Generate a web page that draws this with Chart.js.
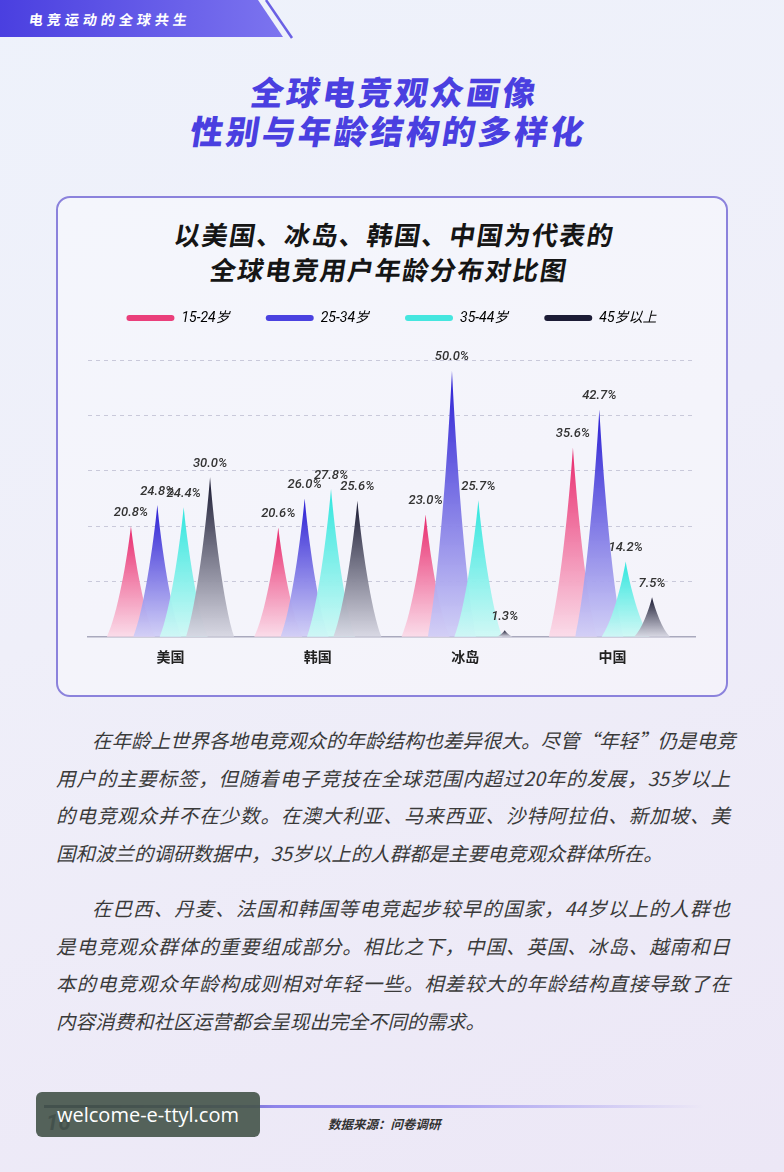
<!DOCTYPE html>
<html lang="zh-CN">
<head>
<meta charset="utf-8">
<script src="https://cdn.jsdelivr.net/npm/chart.js@4"></script>
<style>
  html, body { margin: 0; padding: 0; }
  body {
    width: 784px; height: 1172px; position: relative; overflow: hidden;
    background: linear-gradient(160deg, #eef2fb 0%, #efeff9 45%, #ece7f6 100%);
    font-family: "Noto Sans CJK SC", "Noto Sans", sans-serif;
  }
  .tag-text {
    position: absolute; left: 29px; top: 9px; color: #fff;
    font-size: 14px; font-weight: 700; letter-spacing: 4px; line-height: 20px;
    transform: skewX(-8deg);
  }
  .page-title {
    position: absolute; left: 0; top: 72px; width: 784px; text-align: center;
    color: #4a3fe0; font-size: 33px; font-weight: 900; letter-spacing: 3px; line-height: 39px;
    transform: skewX(-9deg);
  }
  .box {
    position: absolute; left: 56px; top: 196px; width: 672px; height: 501px;
    box-sizing: border-box; border: 2px solid #8b82dc; border-radius: 14px;
    background: rgba(255,255,255,0.35);
  }
  .chart-title {
    position: absolute; left: 56px; top: 216px; width: 672px; text-align: center;
    color: #151515; font-size: 26px; font-weight: 700; letter-spacing: 1.5px; line-height: 35px;
    transform: skewX(-9deg);
  }
  #chartWrap { position: absolute; left: 56px; top: 275px; width: 672px; height: 407px; }
  .para {
    position: absolute; left: 56px; width: 674px;
    font-size: 19.5px; line-height: 37.7px; color: #3a3a3a; font-style: italic;
  }
  .para div { white-space: nowrap; text-align: justify; text-align-last: justify; }
  .para div.first { padding-left: 36px; }
  .para div.last { text-align-last: left; }
  .footline {
    position: absolute; left: 44px; top: 1105px; width: 660px; height: 3px;
    background: linear-gradient(90deg, #23235a 0%, #23235a 8%, #8e84ea 35%, #a59cf0 60%, rgba(165,156,240,0) 100%);
  }
  .pagenum {
    position: absolute; left: 46px; top: 1110px; color: #1d2050;
    font-size: 22px; font-weight: 700; font-style: italic; font-family: Roboto, sans-serif;
  }
  .source {
    position: absolute; left: 328px; top: 1114px; color: #333;
    font-size: 12.5px; font-weight: 700; font-style: italic;
  }
  .watermark {
    position: absolute; left: 36px; top: 1092px; width: 224px; height: 45px;
    background: rgba(70,86,76,0.92); border-radius: 6px; color: #fff;
    font-family: "Open Sans", "Noto Sans", sans-serif; font-size: 20px; line-height: 45px;
    text-align: center;
  }
</style>
</head>
<body>
<svg width="320" height="42" style="position:absolute;left:0;top:0">
  <defs>
    <linearGradient id="tagGrad" x1="0" x2="1" y1="0" y2="0">
      <stop offset="0" stop-color="#4a3fe0"/>
      <stop offset="1" stop-color="#7c74ef"/>
    </linearGradient>
  </defs>
  <polygon points="0,0 258,0 283,37 0,37" fill="url(#tagGrad)"/>
  <line x1="266" y1="0" x2="292" y2="38" stroke="#6a60e4" stroke-width="2.5"/>
</svg>
<div class="tag-text">电竞运动的全球共生</div>

<div class="page-title">全球电竞观众画像<br>性别与年龄结构的多样化</div>

<div class="box"></div>
<div class="chart-title">以美国、冰岛、韩国、中国为代表的<br>全球电竞用户年龄分布对比图</div>
<div id="chartWrap"><canvas id="ageChart"></canvas></div>

<div class="para" style="top:721px">
  <div class="first">在年龄上世界各地电竞观众的年龄结构也差异很大。尽管“年轻”仍是电竞</div>
  <div>用户的主要标签，但随着电子竞技在全球范围内超过20年的发展，35岁以上</div>
  <div>的电竞观众并不在少数。在澳大利亚、马来西亚、沙特阿拉伯、新加坡、美</div>
  <div class="last">国和波兰的调研数据中，35岁以上的人群都是主要电竞观众群体所在。</div>
</div>
<div class="para" style="top:889px">
  <div class="first">在巴西、丹麦、法国和韩国等电竞起步较早的国家，44岁以上的人群也</div>
  <div>是电竞观众群体的重要组成部分。相比之下，中国、英国、冰岛、越南和日</div>
  <div>本的电竞观众年龄构成则相对年轻一些。相差较大的年龄结构直接导致了在</div>
  <div class="last">内容消费和社区运营都会呈现出完全不同的需求。</div>
</div>

<div class="footline"></div>
<div class="pagenum">16</div>
<div class="source">数据来源：问卷调研</div>
<div class="watermark">welcome-e-ttyl.com</div>

<script>
// data (percent of users per age group)
const countries = ['美国', '韩国', '冰岛', '中国'];
const ageGroups = ['15-24岁', '25-34岁', '35-44岁', '45岁以上'];
const age15to24 = [20.8, 20.6, 23.0, 35.6];
const age25to34 = [24.8, 26.0, 50.0, 42.7];
const age35to44 = [24.4, 27.8, 25.7, 14.2];
const age45plus = [30.0, 25.6, 1.3, 7.5];

// colours: legend swatch, spike top, spike bottom
const legendColours = ['#ea3f7b', '#4a42e0', '#45e6df', '#1c1c36'];
const spikeTop = ['#e8296c', '#2a1ed4', '#2fe6de', '#1a1a32'];
const spikeBottom = ['rgba(250,218,232,0.95)', 'rgba(208,206,246,0.95)', 'rgba(206,248,245,0.95)', 'rgba(214,214,226,0.95)'];

Chart.defaults.font.family = '"Noto Sans CJK SC", "Noto Sans", sans-serif';

// more room between legend and plot
const legendGap = {
  id: 'legendGap',
  beforeInit(chart) {
    const fitLegend = chart.legend.fit;
    chart.legend.fit = function () {
      fitLegend.bind(chart.legend)();
      this.height += 25;
    };
  }
};

const spikePlugin = {
  id: 'spikes',
  afterDatasetsDraw(chart) {
    const ctx = chart.ctx;
    ctx.save();
    chart.data.datasets.forEach((ds, di) => {
      chart.getDatasetMeta(di).data.forEach(bar => {
        const x = bar.x, top = bar.y, base = bar.base;
        const h = base - top;
        const w = Math.min(48, 12 + h * 0.6);
        const grad = ctx.createLinearGradient(0, top, 0, base);
        grad.addColorStop(0, spikeTop[di]);
        grad.addColorStop(1, spikeBottom[di]);
        ctx.fillStyle = grad;
        ctx.beginPath();
        ctx.moveTo(x, top);
        ctx.bezierCurveTo(x + w * 0.08, top + h * 0.3, x + w * 0.28, top + h * 0.8, x + w / 2, base);
        ctx.lineTo(x - w / 2, base);
        ctx.bezierCurveTo(x - w * 0.28, top + h * 0.8, x - w * 0.08, top + h * 0.3, x, top);
        ctx.closePath();
        ctx.fill();
      });
    });
    // value labels on top of all spikes
    ctx.font = 'italic 500 13px Roboto, sans-serif';
    ctx.fillStyle = '#333';
    ctx.textAlign = 'center';
    ctx.textBaseline = 'bottom';
    chart.data.datasets.forEach((ds, di) => {
      chart.getDatasetMeta(di).data.forEach((bar, i) => {
        ctx.fillText(ds.data[i].y.toFixed(1) + '%', bar.x, bar.y - 7);
      });
    });
    ctx.restore();
  }
};

const seriesList = [age15to24, age25to34, age35to44, age45plus];

new Chart(document.getElementById('ageChart'), {
  type: 'bar',
  data: {
    datasets: seriesList.map((values, i) => ({
      label: ageGroups[i],
      data: values.map((v, ci) => ({ x: ci, y: v })),
      backgroundColor: 'rgba(0,0,0,0)',
      categoryPercentage: 0.716,
      barPercentage: 1
    }))
  },
  options: {
    responsive: true,
    maintainAspectRatio: false,
    animation: false,
    layout: { padding: { left: 32, right: 33, top: 0, bottom: 6 } },
    plugins: {
      tooltip: { enabled: false },
      legend: {
        position: 'top',
        labels: {
          boxWidth: 48,
          boxHeight: 6,
          padding: 36,
          useBorderRadius: true,
          borderRadius: 3,
          color: '#333',
          font: { size: 14, style: 'italic', family: 'Roboto, "Noto Sans CJK SC", sans-serif' },
          generateLabels: () => ageGroups.map((name, i) => ({
            text: name,
            fillStyle: legendColours[i],
            strokeStyle: legendColours[i],
            lineWidth: 0,
            borderRadius: 3,
            hidden: false,
            datasetIndex: i
          }))
        }
      }
    },
    scales: {
      x: {
        type: 'linear',
        min: -0.56,
        max: 3.56,
        offset: false,
        grid: { display: false, drawTicks: false },
        border: { display: true, color: '#a9a9bd', width: 1.5 },
        ticks: {
          stepSize: 1,
          includeBounds: false,
          color: '#222',
          padding: 11,
          font: { size: 14, weight: 'bold' },
          callback: v => Number.isInteger(v) && countries[v] ? countries[v] : ''
        }
      },
      y: {
        min: 0,
        max: 52,
        ticks: { display: false, stepSize: 10.4 },
        grid: {
          drawTicks: false,
          color: c => c.tick && c.tick.value === 0 ? 'rgba(0,0,0,0)' : '#c9c9da',
          lineWidth: 1
        },
        border: { display: false, dash: [4, 4] }
      }
    }
  },
  plugins: [legendGap, spikePlugin]
});
</script>
</body>
</html>
